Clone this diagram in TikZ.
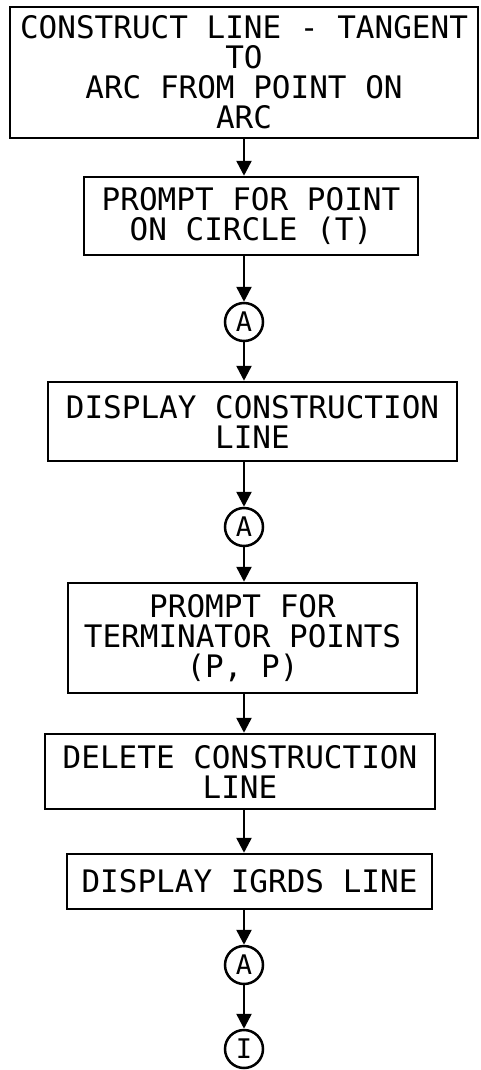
\documentclass[tikz,border=0pt]{standalone}
\usepackage{fontspec}
\setmonofont{DejaVu Sans Mono}
\usetikzlibrary{arrows.meta}
\begin{document}
\begin{tikzpicture}[x=1pt,y=-1pt,
  box/.style={draw, line width=2.5pt, inner sep=0pt, align=center,
    font=\ttfamily\fontsize{31}{30}\selectfont},
  conn/.style={draw, circle, line width=2.5pt, minimum size=38pt, inner sep=0pt,
    font=\ttfamily\fontsize{27}{27}\selectfont},
  arr/.style={line width=2.5pt, -{Triangle[width=15pt,length=15pt]}}]
\useasboundingbox (0,0) rectangle (480,1070);
\node[box, minimum width=468pt, minimum height=131pt] (b1) at (244,72.5)
  {CONSTRUCT LINE - TANGENT\\TO\\ARC FROM POINT ON\\ARC};
\node[box, minimum width=334pt, minimum height=78pt] (b2) at (251,216)
  {PROMPT FOR POINT\\ON CIRCLE (T)};
\node[conn] (c1) at (244,322) {A};
\node[box, minimum width=409pt, minimum height=79pt] (b3) at (252.5,421.5)
  {DISPLAY CONSTRUCTION\\LINE};
\node[conn] (c2) at (244,527) {A};
\node[box, minimum width=349pt, minimum height=110pt] (b4) at (242.5,638)
  {PROMPT FOR\\TERMINATOR POINTS\\(P, P)};
\node[box, minimum width=390pt, minimum height=75pt] (b5) at (240,771.5)
  {DELETE CONSTRUCTION\\LINE};
\node[box, minimum width=365pt, minimum height=55pt] (b6) at (249.5,881.5)
  {DISPLAY IGRDS LINE};
\node[conn] (c3) at (244,965) {A};
\node[conn] (c4) at (244,1049) {I};
\draw[arr] (b1.south -| c1) -- (b2.north -| c1);
\draw[arr] (b2.south -| c1) -- (c1.north);
\draw[arr] (c1.south) -- (b3.north -| c1);
\draw[arr] (b3.south -| c2) -- (c2.north);
\draw[arr] (c2.south) -- (b4.north -| c2);
\draw[arr] (b4.south -| c2) -- (b5.north -| c2);
\draw[arr] (b5.south -| c3) -- (b6.north -| c3);
\draw[arr] (b6.south -| c3) -- (c3.north);
\draw[arr] (c3.south) -- (c4.north);
\end{tikzpicture}
\end{document}
